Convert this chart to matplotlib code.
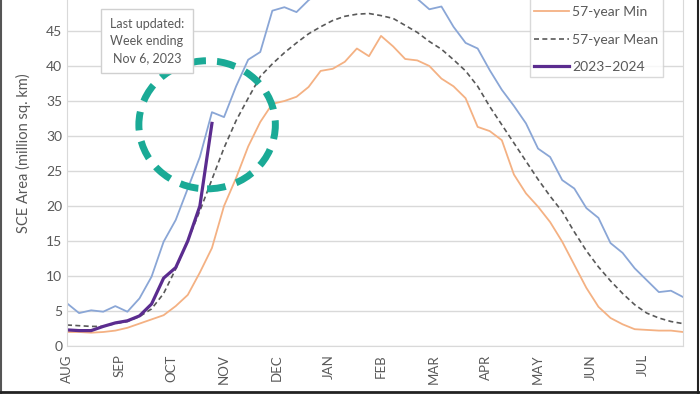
#Importamos las librerias que utilizaremos
import matplotlib.pyplot as plt
import numpy as np
from matplotlib.patches import Ellipse
from matplotlib.lines import Line2D

# Datos semanales (agosto -> julio), millones de km2
meses = ['AUG', 'SEP', 'OCT', 'NOV', 'DEC', 'JAN', 'FEB', 'MAR', 'APR', 'MAY', 'JUN', 'JUL']

maximo = [6.1, 4.7, 5.1, 4.9, 5.7, 4.9, 6.8, 9.9, 14.9, 18.0, 22.5, 27.0, 33.4, 32.7,
          37.1, 40.9, 42.0, 47.9, 48.4, 47.7, 49.4, 50.6, 51.2, 51.0, 51.8, 52.3,
          51.6, 51.0, 50.6, 49.6, 48.1, 48.5, 45.6, 43.3, 42.5, 39.4, 36.6, 34.3,
          31.8, 28.2, 27.0, 23.7, 22.5, 19.7, 18.3, 14.7, 13.3, 11.1, 9.4, 7.7, 7.9, 7.0]

minimo = [2.0, 2.0, 1.9, 2.0, 2.2, 2.6, 3.2, 3.8, 4.4, 5.7, 7.3, 10.5, 14.0, 20.0,
          24.0, 28.5, 32.0, 34.6, 35.0, 35.6, 37.0, 39.3, 39.6, 40.6, 42.5, 41.4,
          44.3, 42.8, 41.0, 40.8, 40.0, 38.2, 37.1, 35.4, 31.3, 30.7, 29.4, 24.5,
          21.8, 19.9, 17.7, 14.9, 11.6, 8.3, 5.6, 4.0, 3.1, 2.4, 2.3, 2.2, 2.2, 2.0]

media = [3.0, 2.9, 2.8, 2.8, 3.2, 3.5, 4.2, 5.3, 7.5, 11.0, 15.1, 19.3, 23.8, 28.3,
         32.2, 35.4, 38.5, 40.3, 41.9, 43.3, 44.6, 45.6, 46.5, 47.1, 47.4, 47.5,
         47.2, 46.8, 45.8, 44.8, 43.5, 42.4, 40.9, 39.3, 37.1, 34.2, 31.6, 29.0,
         26.4, 23.8, 21.4, 19.2, 16.3, 13.6, 11.3, 9.3, 7.5, 5.9, 4.7, 4.0, 3.5, 3.2]

actual = [2.3, 2.2, 2.2, 2.8, 3.3, 3.6, 4.3, 6.0, 9.7, 11.2, 15.0, 20.0, 31.8]

plt.rcParams['font.family'] = ['Lato', 'DejaVu Sans']
gris = '#595959'

fig = plt.figure(figsize=(7, 3.94), dpi=100)
# El grafico original esta recortado arriba: el eje sobresale de la figura
ax = fig.add_axes([67 / 700, 48 / 394, 616 / 700, 55 * 7 / 394])

semanas = np.arange(len(maximo))
l_max, = ax.plot(semanas, maximo, color='#8aa6d6', lw=1.3)
l_min, = ax.plot(semanas, minimo, color='#f4b183', lw=1.3)
l_med, = ax.plot(semanas, media, color='#595959', lw=1.2, ls=(0, (3, 2)))
l_act, = ax.plot(np.arange(len(actual)), actual, color='#5b2c8f', lw=2.3)

# Circulo punteado alrededor del ultimo dato
ax.add_patch(Ellipse((11.6, 31.6), 11.3, 18.3, fill=False, edgecolor='#1aaa96',
                     lw=5, ls=(0, (2.7, 1.6)), zorder=5))

ax.set_xlim(0, 51)
ax.set_ylim(0, 55)
ax.set_yticks(np.arange(0, 50, 5))
ax.set_xticks(np.arange(12) * 52 / 12)
ax.set_xticklabels(meses, rotation=90)
ax.tick_params(axis='both', length=0, colors=gris, labelsize=10)
ax.tick_params(axis='x', pad=6, labelsize=9.5)
ax.axhline(50, color='#d9d9d9', lw=1, zorder=0)
ax.grid(axis='y', color='#d9d9d9', lw=1)
ax.set_axisbelow(True)
for lado in ['left', 'bottom', 'right']:
    ax.spines[lado].set_color('#d9d9d9')
ax.spines['top'].set_visible(False)
ax.set_ylabel('SCE Area (million sq. km)', color=gris, fontsize=10.5, labelpad=11)

# Caja de texto con la fecha de actualizacion
fig.text(147 / 700, 1 - 41 / 394, 'Last updated:\nWeek ending\nNov 6, 2023',
         ha='center', va='center', color=gris, fontsize=9, linespacing=1.55,
         bbox=dict(boxstyle='square,pad=0.7', fc='white', ec='#d0d0d0', lw=1))

# Leyenda (la entrada del maximo queda fuera de la imagen, arriba)
ley = ax.legend([l_max, l_min, l_med, l_act],
                [' ', '57-year Min', '57-year Mean', '2023\u20132024'],
                loc='lower left', bbox_to_anchor=(523 / 700, 310 / 394),
                bbox_transform=fig.transFigure, fontsize=10, frameon=True,
                fancybox=False, edgecolor='#d0d0d0', handlelength=2.5,
                handletextpad=0.25, labelspacing=1.1, borderpad=0.3)
ley.get_frame().set_linewidth(1)
for t in ley.get_texts():
    t.set_color(gris)

# Marco exterior de la imagen
fig.add_artist(Line2D([0.002, 0.002], [0, 1], color='#555555', lw=1.5))
fig.add_artist(Line2D([0, 1], [0.006, 0.006], color='#222222', lw=2))
fig.add_artist(Line2D([0.997, 0.997], [0, 1], color='#222222', lw=1.5))

fig.savefig('out.png', dpi=100)
